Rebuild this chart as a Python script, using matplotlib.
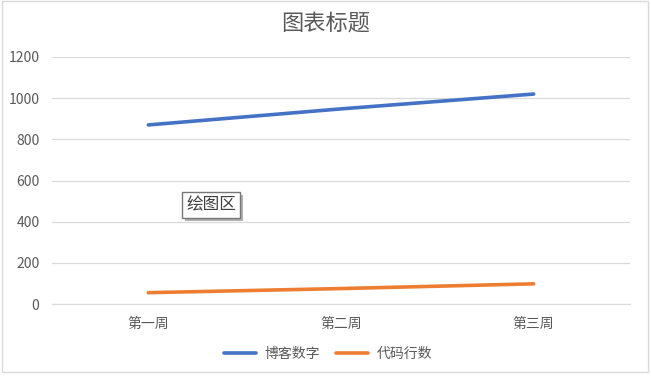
import matplotlib
matplotlib.use('Agg')
import matplotlib.pyplot as plt
from matplotlib.patches import Rectangle

plt.rcParams['font.family'] = ['Noto Sans CJK SC', 'DejaVu Sans']

weeks = ['第一周', '第二周', '第三周']
blog = [870, 948, 1020]
code = [55, 75, 98]
series_names = ['博客数字', '代码行数']
yticks = [0, 200, 400, 600, 800, 1000, 1200]

gray = '#595959'
grid = '#D9D9D9'

fig = plt.figure(figsize=(6.51, 3.77), dpi=100)
fig.patches.append(Rectangle((0.003, 0.013), 0.992, 0.984, transform=fig.transFigure,
                             fill=False, ec='#D9D9D9', lw=1.0))
ax = fig.add_axes([52/651, 1-304/377, (630-52)/651, (304-57)/377])

x = range(len(weeks))
ax.plot(x, blog, color='#4472C4', lw=2.6, solid_capstyle='round', label=series_names[0])
ax.plot(x, code, color='#ED7D31', lw=2.6, solid_capstyle='round', label=series_names[1])

ax.set_xlim(-0.5, 2.5)
ax.set_ylim(0, 1200)
ax.set_yticks(yticks)
ax.set_xticks(list(x))
ax.set_xticklabels(weeks)
ax.yaxis.grid(True, color=grid, lw=0.9)
ax.set_axisbelow(True)
for s in ['top', 'right', 'left']:
    ax.spines[s].set_visible(False)
ax.spines['bottom'].set_color(grid)
ax.tick_params(axis='both', length=0, colors=gray, labelsize=10)
ax.tick_params(axis='y', pad=9)
ax.tick_params(axis='x', pad=9)

fig.text(0.5, 1-23/377, '图表标题', ha='center', va='center', fontsize=16, color=gray)

fig.legend(loc='center', bbox_to_anchor=(328/651, 1-354/377), ncol=2, frameon=False,
           fontsize=10, labelcolor=gray, handlelength=2.3, columnspacing=1.2, handletextpad=0.6)

# tooltip box "绘图区" with drop shadow
lbl = fig.text(211/651, 1-205/377, '绘图区', ha='center', va='center', fontsize=12,
               color='#404040', zorder=5,
               bbox=dict(boxstyle='square,pad=0.25', fc='white', ec='#767676', lw=1))
fig.canvas.draw()
bb = lbl.get_bbox_patch().get_window_extent().transformed(fig.transFigure.inverted())
fig.patches.append(Rectangle((bb.x0 + 3/651, bb.y0 - 3/377), bb.width, bb.height,
                             transform=fig.transFigure, fc='#B0B0B0', ec='none', zorder=4))

plt.savefig('out.png', dpi=100)
